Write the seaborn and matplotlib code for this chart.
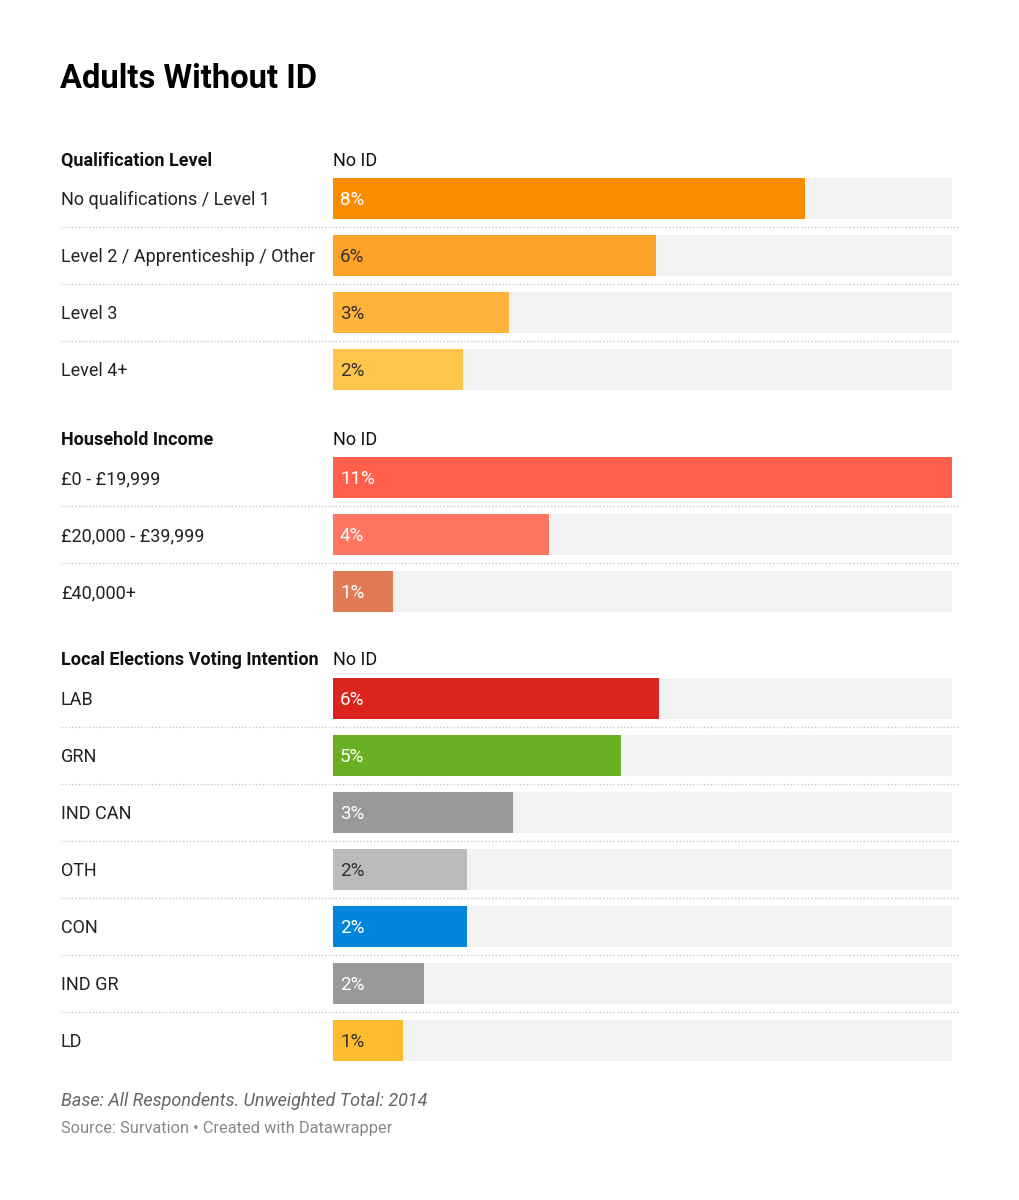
import numpy as np
import pandas as pd
import matplotlib
matplotlib.use('Agg')
import matplotlib.pyplot as plt
import matplotlib.transforms as mtransforms
from matplotlib.colors import to_rgb
import seaborn as sns

# 데이터
qual_labels = ['No qualifications / Level 1', 'Level 2 / Apprenticeship / Other', 'Level 3', 'Level 4+']
qual_values = [8.24, 5.64, 3.07, 2.27]
qual_colors = ['#f98c00', '#fea127', '#ffb33b', '#ffc44b']

income_labels = ['£0 - £19,999', '£20,000 - £39,999', '£40,000+']
income_values = [10.8, 3.77, 1.05]
income_colors = ['#ff5f4b', '#ff7562', '#e27b55']

vote_labels = ['LAB', 'GRN', 'IND CAN', 'OTH', 'CON', 'IND GR', 'LD']
vote_values = [5.68, 5.02, 3.14, 2.33, 2.33, 1.59, 1.22]
vote_colors = ['#dc241f', '#6ab023', '#999999', '#bbbbbb', '#0087dc', '#999999', '#fdbb30']

W, H = 1020, 1200
X0, X1 = 333, 952          # 막대 영역 (픽셀)
ROW = 57                   # 행 간격
BAR_H = 40.5 / ROW
TXT_DY = 1.5 / ROW         # 텍스트 세로 보정
XMAX = max(qual_values + income_values + vote_values)

sns.set_theme(style='white')
plt.rcParams['font.family'] = ['Roboto', 'DejaVu Sans']

fig = plt.figure(figsize=(W / 100, H / 100), dpi=100)
fig.patch.set_facecolor('white')


def fx(x):
    return x / W


def fy(y):
    return 1 - y / H


def luminance(c):
    r, g, b = [v / 12.92 if v <= 0.04045 else ((v + 0.055) / 1.055) ** 2.4 for v in to_rgb(c)]
    return 0.2126 * r + 0.7152 * g + 0.0722 * b


def draw_section(header, labels, values, colors, first_center):
    n = len(labels)
    top = first_center - ROW / 2
    bottom = first_center + (n - 0.5) * ROW
    ax = fig.add_axes([fx(X0), fy(bottom), fx(X1) - fx(X0), (bottom - top) / H])

    df = pd.DataFrame({'label': labels, 'value': values})
    sns.barplot(data=df, x=[XMAX] * n, y='label', color='#f2f2f2', width=BAR_H,
                orient='h', ax=ax, saturation=1, linewidth=0)
    sns.barplot(data=df, x='value', y='label', hue='label', palette=colors, width=BAR_H,
                orient='h', ax=ax, saturation=1, legend=False, linewidth=0)

    ax.set_xlim(0, XMAX)
    ax.set_ylim(n - 0.5, -0.5)
    ax.set_axis_off()

    trans = mtransforms.blended_transform_factory(fig.transFigure, ax.transData)
    for i, (lab, v, c) in enumerate(zip(labels, values, colors)):
        ax.text(fx(61), i + TXT_DY, lab, transform=trans, ha='left', va='center',
                fontsize=13, color='#222222')
        tc = '#ffffff' if luminance(c) < 0.43 else '#333333'
        ax.text(fx(X0 + 7), i + TXT_DY, f'{round(v)}%', transform=trans, ha='left', va='center',
                fontsize=13.5, color=tc)
        if i < n - 1:
            ax.plot([fx(61), fx(959)], [i + 0.5, i + 0.5], transform=trans, clip_on=False,
                    color='#c8c8c8', lw=1, linestyle=(0, (1, 1.5)))

    fig.text(fx(61), fy(first_center - 38), header, ha='left', va='center',
             fontsize=13, fontweight='bold', color='#111111')
    fig.text(fx(X0), fy(first_center - 38), 'No ID', ha='left', va='center',
             fontsize=13, color='#111111')


draw_section('Qualification Level', qual_labels, qual_values, qual_colors, 198.7)
draw_section('Household Income', income_labels, income_values, income_colors, 477.7)
draw_section('Local Elections Voting Intention', vote_labels, vote_values, vote_colors, 698.3)

fig.text(fx(60), fy(79), 'Adults Without ID', ha='left', va='center',
         fontsize=23.6, fontweight='bold', color='#000000')
fig.text(fx(61), fy(1101.5), 'Base: All Respondents. Unweighted Total: 2014', ha='left', va='center',
         fontsize=13, fontstyle='italic', color='#666666')
fig.text(fx(61), fy(1128.5), 'Source: Survation • Created with Datawrapper', ha='left', va='center',
         fontsize=11.8, color='#888888')

fig.savefig('out.png', dpi=100, facecolor='white')
